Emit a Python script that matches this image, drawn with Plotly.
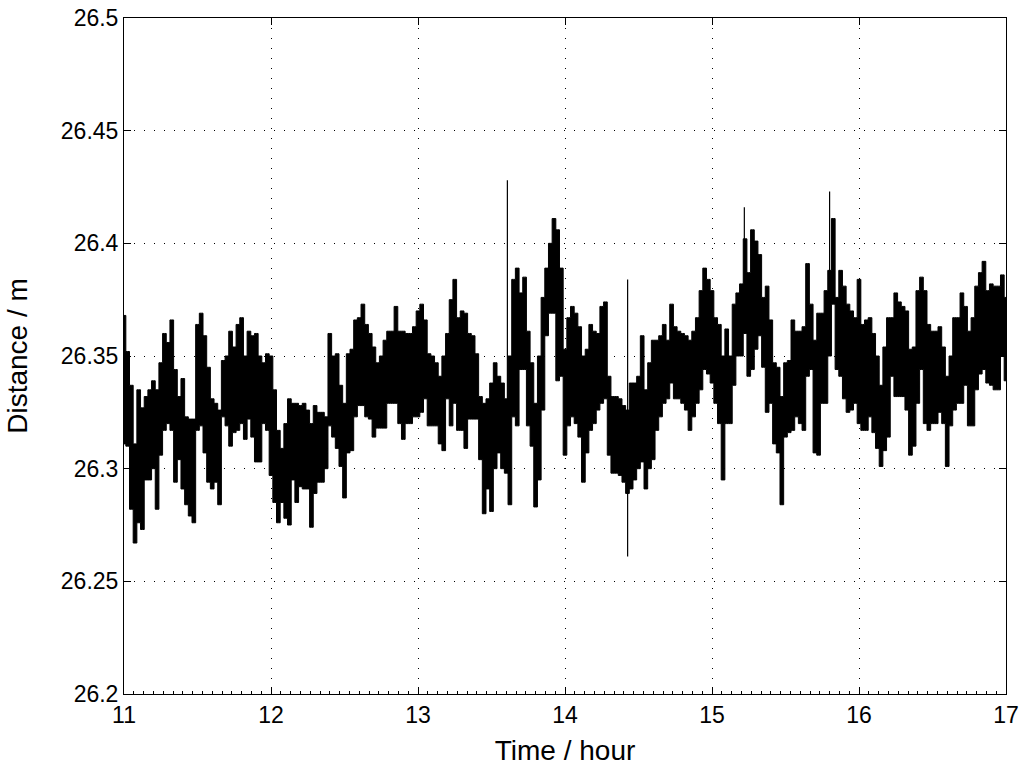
import numpy as np
import plotly.graph_objects as go

# ── Data (distance in metres) ────────────────────────────────────────────────
# one upper / lower envelope reading every 1.5 minutes (0.025 h), from 11:00
SAMPLE_STEP_H = 0.025
T_START = 11.0

upper_11 = [26.368, 26.352, 26.337, 26.311, 26.335, 26.327, 26.332, 26.335, 26.339, 26.335,
            26.347, 26.360, 26.356, 26.366, 26.344, 26.332, 26.340, 26.323, 26.322, 26.322,
            26.364, 26.369, 26.359, 26.345, 26.331, 26.329, 26.326, 26.348, 26.350, 26.361,
            26.354, 26.364, 26.367, 26.350, 26.361, 26.359, 26.360, 26.350, 26.347, 26.351]
lower_11 = [26.311, 26.310, 26.282, 26.267, 26.276, 26.273, 26.295, 26.295, 26.300, 26.282,
            26.306, 26.317, 26.320, 26.317, 26.294, 26.304, 26.291, 26.284, 26.279, 26.276,
            26.317, 26.319, 26.307, 26.294, 26.291, 26.294, 26.284, 26.323, 26.319, 26.310,
            26.316, 26.317, 26.320, 26.313, 26.322, 26.314, 26.303, 26.303, 26.320, 26.317]

upper_12 = [26.350, 26.335, 26.317, 26.309, 26.320, 26.331, 26.329, 26.329, 26.328, 26.329,
            26.326, 26.320, 26.328, 26.325, 26.325, 26.323, 26.360, 26.350, 26.351, 26.337,
            26.329, 26.351, 26.353, 26.366, 26.367, 26.373, 26.364, 26.360, 26.354, 26.347,
            26.350, 26.357, 26.361, 26.361, 26.372, 26.361, 26.361, 26.360, 26.360, 26.363]
lower_12 = [26.297, 26.285, 26.276, 26.285, 26.278, 26.275, 26.295, 26.285, 26.292, 26.291,
            26.291, 26.274, 26.289, 26.294, 26.294, 26.300, 26.319, 26.314, 26.309, 26.301,
            26.287, 26.307, 26.308, 26.323, 26.328, 26.328, 26.323, 26.322, 26.314, 26.318,
            26.318, 26.318, 26.329, 26.329, 26.329, 26.320, 26.313, 26.320, 26.320, 26.323]

upper_13 = [26.370, 26.373, 26.366, 26.351, 26.350, 26.347, 26.341, 26.350, 26.360, 26.375,
            26.384, 26.367, 26.370, 26.369, 26.360, 26.359, 26.351, 26.332, 26.329, 26.331,
            26.338, 26.347, 26.341, 26.338, 26.331, 26.350, 26.384, 26.389, 26.378, 26.385,
            26.361, 26.347, 26.329, 26.350, 26.376, 26.389, 26.400, 26.411, 26.406, 26.389]
lower_13 = [26.323, 26.325, 26.331, 26.319, 26.319, 26.319, 26.311, 26.308, 26.331, 26.319,
            26.329, 26.317, 26.317, 26.309, 26.322, 26.322, 26.322, 26.304, 26.280, 26.291,
            26.281, 26.300, 26.307, 26.300, 26.298, 26.284, 26.323, 26.319, 26.344, 26.344,
            26.319, 26.310, 26.283, 26.295, 26.326, 26.359, 26.369, 26.369, 26.339, 26.341]

upper_14 = [26.353, 26.367, 26.372, 26.369, 26.363, 26.350, 26.353, 26.364, 26.361, 26.360,
            26.372, 26.374, 26.341, 26.332, 26.332, 26.331, 26.328, 26.326, 26.338, 26.338,
            26.341, 26.359, 26.335, 26.347, 26.357, 26.357, 26.359, 26.364, 26.357, 26.373,
            26.363, 26.361, 26.360, 26.359, 26.357, 26.361, 26.367, 26.379, 26.389, 26.384]
lower_14 = [26.306, 26.319, 26.323, 26.320, 26.314, 26.294, 26.307, 26.317, 26.320, 26.326,
            26.329, 26.331, 26.306, 26.298, 26.298, 26.297, 26.294, 26.289, 26.291, 26.295,
            26.300, 26.303, 26.291, 26.300, 26.304, 26.317, 26.323, 26.329, 26.331, 26.338,
            26.331, 26.331, 26.329, 26.326, 26.317, 26.323, 26.329, 26.335, 26.344, 26.342]

upper_15 = [26.379, 26.367, 26.364, 26.350, 26.362, 26.350, 26.373, 26.378, 26.382, 26.402,
            26.387, 26.406, 26.401, 26.395, 26.376, 26.381, 26.366, 26.347, 26.345, 26.332,
            26.347, 26.348, 26.366, 26.361, 26.361, 26.363, 26.391, 26.373, 26.357, 26.369,
            26.369, 26.379, 26.388, 26.411, 26.376, 26.388, 26.381, 26.373, 26.370, 26.367]
lower_15 = [26.338, 26.329, 26.320, 26.295, 26.320, 26.320, 26.337, 26.350, 26.350, 26.360,
            26.341, 26.344, 26.353, 26.359, 26.345, 26.325, 26.329, 26.311, 26.307, 26.284,
            26.314, 26.316, 26.317, 26.323, 26.320, 26.317, 26.341, 26.344, 26.307, 26.306,
            26.329, 26.329, 26.350, 26.373, 26.344, 26.341, 26.331, 26.325, 26.326, 26.329]

upper_16 = [26.384, 26.364, 26.366, 26.367, 26.360, 26.350, 26.337, 26.354, 26.367, 26.367,
            26.378, 26.374, 26.372, 26.370, 26.353, 26.354, 26.379, 26.385, 26.379, 26.364,
            26.361, 26.361, 26.363, 26.354, 26.341, 26.350, 26.367, 26.367, 26.378, 26.372,
            26.361, 26.367, 26.381, 26.387, 26.392, 26.379, 26.382, 26.381, 26.381, 26.386,
            26.376]
lower_16 = [26.320, 26.317, 26.317, 26.323, 26.316, 26.309, 26.301, 26.308, 26.314, 26.341,
            26.332, 26.332, 26.332, 26.326, 26.306, 26.310, 26.329, 26.344, 26.320, 26.317,
            26.320, 26.320, 26.325, 26.320, 26.301, 26.319, 26.326, 26.329, 26.329, 26.337,
            26.319, 26.319, 26.335, 26.342, 26.344, 26.338, 26.337, 26.335, 26.335, 26.350,
            26.339]

# single-sample outliers (thin spikes)
spike_time = [13.608, 14.426, 15.220, 15.800, 16.005]
spike_top = [26.428, 26.384, 26.416, 26.423, 26.384]
spike_bottom = [26.330, 26.261, 26.360, 26.350, 26.330]

x_ticks = [11, 12, 13, 14, 15, 16, 17]
y_ticks = [26.2, 26.25, 26.3, 26.35, 26.4, 26.45, 26.5]

# ── Style ─────────────────────────────────────────────────────────────────────
FONT = dict(family="Liberation Sans, Arial, sans-serif", size=23, color="black")
GRID_DASH = "1px,9px"

upper = upper_11 + upper_12 + upper_13 + upper_14 + upper_15 + upper_16
lower = lower_11 + lower_12 + lower_13 + lower_14 + lower_15 + lower_16
time_h = T_START + SAMPLE_STEP_H * np.arange(len(upper))

spike_x, spike_y = [], []
for t, top, bot in zip(spike_time, spike_top, spike_bottom):
    spike_x += [t, t, None]
    spike_y += [bot, top, None]

fig = go.Figure()
fig.add_trace(go.Scatter(
    x=time_h, y=lower, mode="lines", line=dict(color="black", width=1, shape="hvh"),
    showlegend=False, hoverinfo="skip",
))
fig.add_trace(go.Scatter(
    x=time_h, y=upper, mode="lines", line=dict(color="black", width=1, shape="hvh"),
    fill="tonexty", fillcolor="black", showlegend=False, hoverinfo="skip",
))
fig.add_trace(go.Scatter(
    x=spike_x, y=spike_y, mode="lines", line=dict(color="black", width=1.2),
    showlegend=False, hoverinfo="skip",
))
# dummy trace so the top axis (major ticks only) gets drawn
fig.add_trace(go.Scatter(x=[11, 17], y=[26.2, 26.2], xaxis="x2", mode="markers",
                         marker=dict(opacity=0), showlegend=False, hoverinfo="skip"))

fig.update_layout(
    width=1024, height=770,
    paper_bgcolor="white", plot_bgcolor="white",
    font=FONT,
    margin=dict(l=124, r=18, t=18, b=76, autoexpand=False),
    xaxis=dict(
        range=[11, 17], tickvals=x_ticks, ticks="inside", ticklen=7, tickcolor="black",
        showline=True, linecolor="black", linewidth=1, mirror=True,
        showgrid=True, gridcolor="black", gridwidth=1, griddash=GRID_DASH, zeroline=False,
        minor=dict(dtick=1 / 15, ticks="inside", ticklen=3, tickcolor="black", showgrid=False),
        title=dict(text="Time / hour", standoff=13), automargin=False,
    ),
    xaxis2=dict(
        range=[11, 17], overlaying="x", side="top", tickvals=x_ticks, ticks="inside",
        ticklen=7, tickcolor="black", showticklabels=False, showgrid=False, zeroline=False,
        automargin=False,
    ),
    yaxis=dict(
        range=[26.2, 26.5], tickvals=y_ticks, ticktext=[f"{v:g}" for v in y_ticks],
        ticks="inside", ticklen=7, tickcolor="black",
        showline=True, linecolor="black", linewidth=1, mirror="ticks",
        showgrid=True, gridcolor="black", gridwidth=1, griddash=GRID_DASH, zeroline=False,
        title=dict(text="Distance / m", standoff=25), automargin=False,
    ),
)

# drop the browser's default 8px body margin so the figure sits at the page corner
fig.write_html("out.html", config={"displayModeBar": False},
               post_script="document.body.style.margin='0';")
